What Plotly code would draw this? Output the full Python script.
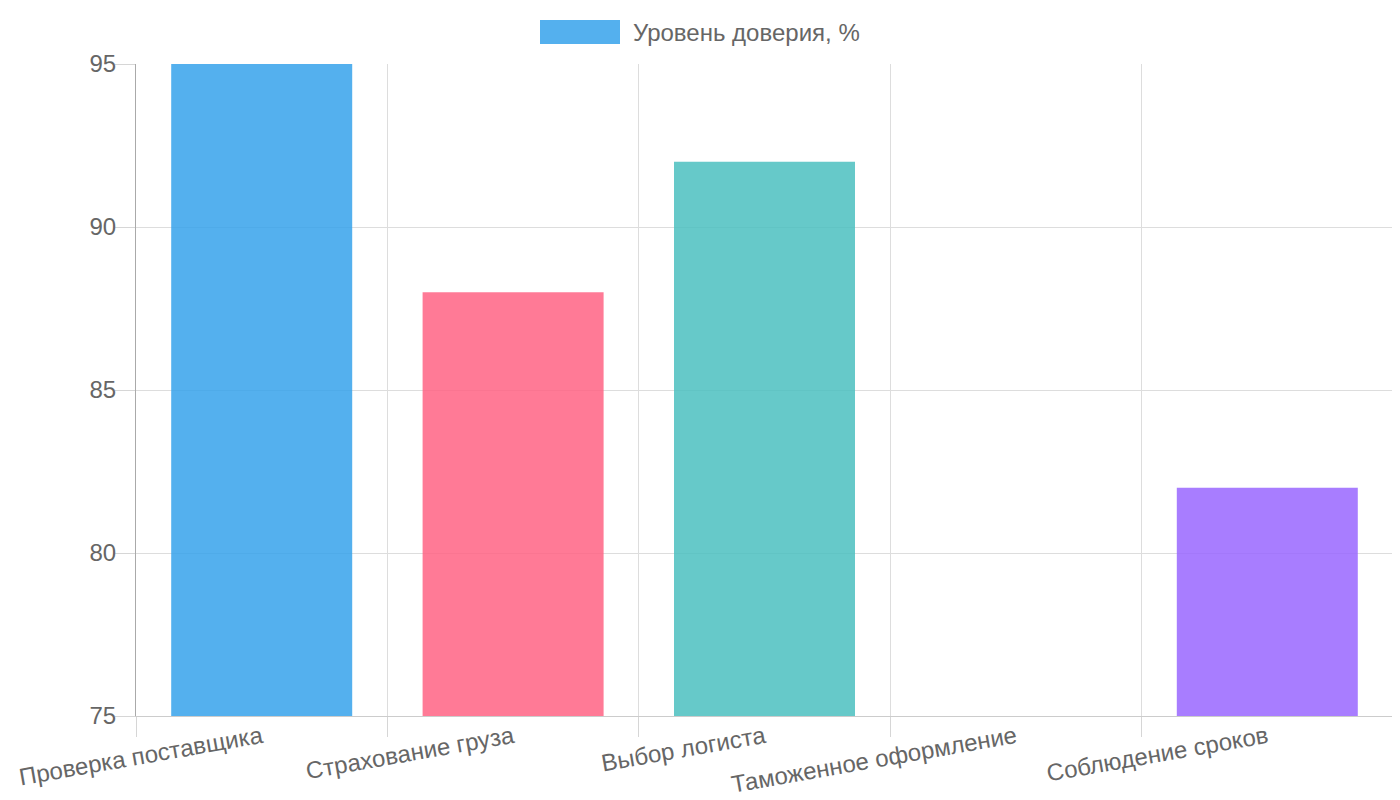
import plotly.graph_objects as go

# данные графика
categories = ["Проверка поставщика", "Страхование груза", "Выбор логиста",
              "Таможенное оформление", "Соблюдение сроков"]
trust_values = [95, 88, 92, 70, 82]
series_name = "Уровень доверия, %"
bar_colors = ["rgba(54,162,235,0.85)", "rgba(255,99,132,0.85)", "rgba(75,192,192,0.85)",
              "rgba(255,159,64,0.85)", "rgba(153,102,255,0.85)"]
y_ticks = [75, 80, 85, 90, 95]

FONT = "Liberation Sans, Arial, sans-serif"
GRID = "#dddddd"

fig = go.Figure()
fig.add_trace(go.Bar(
    x=categories, y=trust_values, name=series_name,
    marker=dict(color=bar_colors, line=dict(width=0)),
    showlegend=False,
))

# легенда в стиле Chart.js: широкий цветной прямоугольник + подпись
fig.add_shape(type="rect", xref="paper", yref="paper",
              x0=(540 - 136) / 1257, x1=(620 - 136) / 1257,
              y0=1 + (64 - 44) / 652, y1=1 + (64 - 20) / 652,
              fillcolor=bar_colors[0], line=dict(width=0))
fig.add_annotation(text=series_name, xref="paper", yref="paper",
                   x=(631 - 136) / 1257, y=1 + (64 - 32) / 652,
                   xanchor="left", yanchor="middle", showarrow=False,
                   font=dict(family=FONT, size=24, color="#666666"))

fig.update_layout(
    width=1400, height=800,
    margin=dict(l=128, r=15, t=56, b=92),
    paper_bgcolor="white", plot_bgcolor="white",
    bargap=0.28,
    font=dict(family=FONT, size=24, color="#666666"),
)
fig.update_xaxes(
    type="category", tickson="boundaries", automargin=False,
    showgrid=True, gridcolor=GRID, gridwidth=1,
    ticks="outside", ticklen=20, tickwidth=1, tickcolor="#d6d6d6", ticklabelstandoff=-3,
    showline=True, linecolor="#cccccc", linewidth=1,
    tickangle=-10, tickfont=dict(size=24, color="#666666"),
    range=[-0.5, 4.5],
)
fig.update_yaxes(
    range=[75, 95], tickvals=y_ticks, automargin=False,
    showgrid=True, gridcolor=GRID, gridwidth=1,
    ticks="outside", ticklen=20, tickwidth=1, tickcolor="#d6d6d6", ticklabelstandoff=-6,
    showline=True, linecolor="#aaaaaa", linewidth=1,
    zeroline=False, tickfont=dict(size=24, color="#666666"),
)

fig.write_html("out.html")
